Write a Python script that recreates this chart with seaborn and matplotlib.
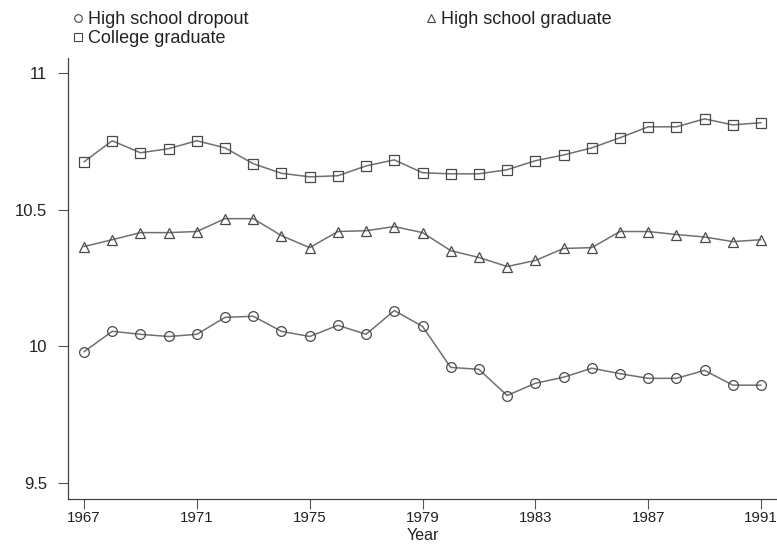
import matplotlib
matplotlib.use("Agg")
import matplotlib.pyplot as plt
from matplotlib.lines import Line2D
import numpy as np
import pandas as pd
import seaborn as sns

# Log real weekly wages by education group, 1967-1991
years = list(range(1967, 1992))

dropout = [9.980, 10.055, 10.044, 10.036, 10.044, 10.106, 10.110, 10.055, 10.036,
           10.077, 10.044, 10.131, 10.073, 9.923, 9.916, 9.820, 9.865, 9.887,
           9.920, 9.900, 9.883, 9.883, 9.912, 9.858, 9.858]

hs_grad = [10.365, 10.390, 10.416, 10.416, 10.420, 10.467, 10.467, 10.405, 10.361,
           10.420, 10.423, 10.438, 10.416, 10.350, 10.325, 10.292, 10.314, 10.358,
           10.361, 10.420, 10.420, 10.409, 10.400, 10.383, 10.390]

college = [10.675, 10.752, 10.708, 10.723, 10.752, 10.726, 10.668, 10.633, 10.620,
           10.624, 10.660, 10.682, 10.635, 10.631, 10.631, 10.646, 10.679, 10.700,
           10.726, 10.763, 10.803, 10.803, 10.832, 10.810, 10.818]

series_names = ["High school dropout", "High school graduate", "College graduate"]
series_markers = ["o", "^", "s"]

x_ticks = [1967, 1971, 1975, 1979, 1983, 1987, 1991]
y_ticks = [9.5, 10, 10.5, 11]
y_tick_labels = ["9.5", "10", "10.5", "11"]

sns.set_theme(style="ticks")
plt.rcParams["font.family"] = ["Liberation Sans", "DejaVu Sans"]

line_col = "#707070"
edge_col = "#484848"
text_col = "#222222"

fig = plt.figure(figsize=(7.77, 5.52), dpi=100, facecolor="white")
ax = fig.add_axes([68 / 777, 1 - 499 / 552, 1 - 68 / 777, (499 - 58) / 552])

for name, vals, mk in zip(series_names, [dropout, hs_grad, college], series_markers):
    df = pd.DataFrame({"year": years, "value": vals})
    sns.lineplot(data=df, x="year", y="value", ax=ax, color=line_col,
                 marker=mk, markersize=7 if mk != "^" else 7.5,
                 markerfacecolor="none", markeredgecolor=edge_col,
                 markeredgewidth=0.9, linewidth=1.1, legend=False)

ax.set_xlim(1966.433, 1991.567)
ax.set_ylim(9.4416, 11.0547)
ax.set_xticks(x_ticks)
ax.set_xticklabels([str(t) for t in x_ticks])
ax.set_yticks(y_ticks)
ax.set_yticklabels(y_tick_labels)
ax.set_xlabel("Year", fontsize=11.5, color=text_col, labelpad=2)
ax.set_ylabel("")

sns.despine(ax=ax)
for side in ["left", "bottom"]:
    ax.spines[side].set_color("#444444")
    ax.spines[side].set_linewidth(0.9)
ax.tick_params(axis="both", direction="out", length=7, width=0.8, color="#555555",
               labelcolor=text_col)
ax.tick_params(axis="y", pad=8, labelsize=12)
ax.tick_params(axis="x", pad=2, labelsize=10.8)

handles = [Line2D([], [], linestyle="none", marker=mk, markersize=5.5,
                  markerfacecolor="none", markeredgecolor=edge_col,
                  markeredgewidth=0.8)
           for mk in series_markers]
order = [0, 2, 1]
fig.legend([handles[i] for i in order], [series_names[i] for i in order],
           loc="upper left", bbox_to_anchor=(66 / 777, 1 - 4 / 552), ncol=2,
           frameon=False, fontsize=13, handlelength=0.5, handletextpad=0.3,
           columnspacing=9.9, labelspacing=0.12, borderaxespad=0,
           labelcolor=text_col)

fig.savefig("out.png", dpi=100, facecolor="white")
